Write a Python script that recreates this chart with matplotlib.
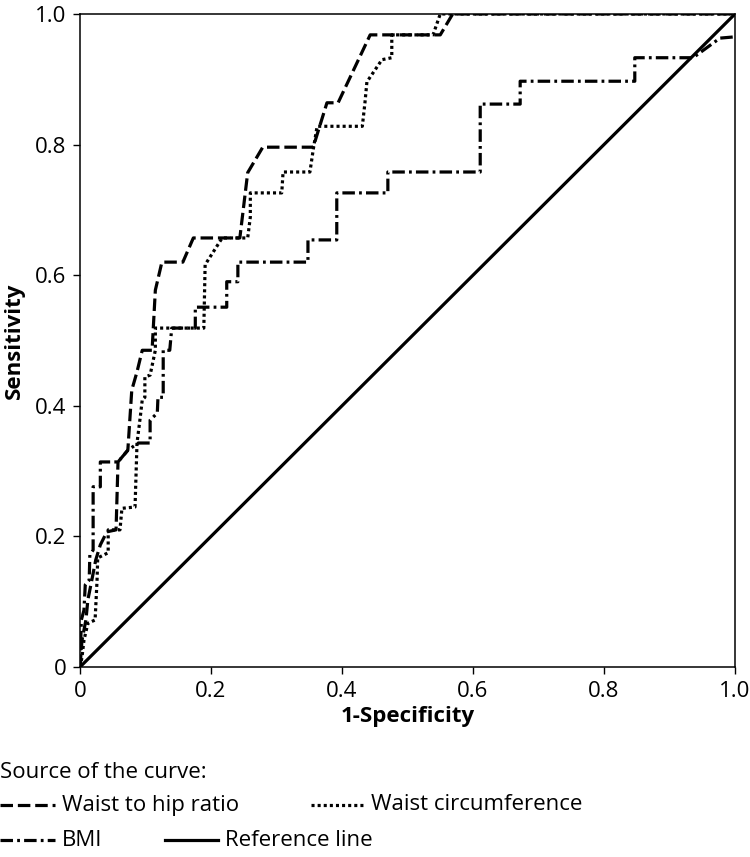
import matplotlib.pyplot as plt
from matplotlib.lines import Line2D

plt.rcParams['font.family'] = ['Open Sans', 'DejaVu Sans']
plt.rcParams['lines.scale_dashes'] = False

# ROC curve points (1-specificity, sensitivity)
whr_x = [0, 0.003, 0.009, 0.012, 0.018, 0.024, 0.031, 0.041, 0.055, 0.058, 0.073, 0.079,
         0.087, 0.095, 0.110, 0.115, 0.125, 0.157, 0.173, 0.244, 0.256, 0.279, 0.356,
         0.377, 0.394, 0.443, 0.550, 0.569, 1.0]
whr_y = [0, 0.041, 0.072, 0.103, 0.133, 0.164, 0.187, 0.207, 0.210, 0.314, 0.332, 0.424,
         0.452, 0.485, 0.485, 0.577, 0.620, 0.620, 0.657, 0.657, 0.757, 0.796, 0.796,
         0.864, 0.864, 0.968, 0.968, 1.0, 1.0]

wc_x = [0, 0.003, 0.006, 0.012, 0.023, 0.026, 0.027, 0.043, 0.043, 0.061, 0.064, 0.084,
        0.087, 0.092, 0.095, 0.099, 0.099, 0.107, 0.111, 0.115, 0.115, 0.189, 0.191,
        0.217, 0.256, 0.260, 0.260, 0.308, 0.310, 0.351, 0.356, 0.362, 0.431, 0.435,
        0.438, 0.461, 0.476, 0.476, 0.539, 0.550, 1.0]
wc_y = [0, 0.015, 0.041, 0.067, 0.072, 0.133, 0.167, 0.175, 0.210, 0.210, 0.243, 0.245,
        0.343, 0.383, 0.409, 0.413, 0.444, 0.447, 0.466, 0.485, 0.519, 0.519, 0.616,
        0.657, 0.657, 0.689, 0.726, 0.726, 0.758, 0.758, 0.792, 0.828, 0.828, 0.864,
        0.896, 0.930, 0.933, 0.968, 0.968, 1.0, 1.0]

bmi_x = [0, 0.002, 0.006, 0.008, 0.014, 0.015, 0.020, 0.020, 0.031, 0.031, 0.058, 0.073,
         0.089, 0.107, 0.107, 0.118, 0.119, 0.127, 0.127, 0.137, 0.140, 0.176, 0.176,
         0.224, 0.224, 0.241, 0.241, 0.348, 0.348, 0.392, 0.392, 0.470, 0.470, 0.611,
         0.611, 0.672, 0.672, 0.847, 0.847, 0.936, 0.977, 1.0]
bmi_y = [0, 0.072, 0.087, 0.126, 0.133, 0.172, 0.179, 0.276, 0.276, 0.314, 0.314, 0.332,
         0.343, 0.343, 0.378, 0.389, 0.413, 0.413, 0.485, 0.485, 0.519, 0.519, 0.551,
         0.551, 0.590, 0.590, 0.620, 0.620, 0.654, 0.654, 0.726, 0.726, 0.758, 0.758,
         0.862, 0.862, 0.897, 0.897, 0.933, 0.933, 0.963, 0.965]

ref_x = [0, 1]
ref_y = [0, 1]

ticks = [0, 0.2, 0.4, 0.6, 0.8, 1.0]
tick_labels = ['0', '0.2', '0.4', '0.6', '0.8', '1.0']

dash_whr = (0, (9, 3.5))
dot_wc = (0, (2.2, 2.2))
dashdot_bmi = (0, (9, 3, 2, 3))
lw = 2.3
fs = 16

fig = plt.figure(figsize=(7.5, 8.57), dpi=100)
ax = fig.add_axes([0.1067, 0.2217, 0.8733, 0.762])

ax.plot(whr_x, whr_y, color='black', lw=lw, linestyle=dash_whr)
ax.plot(wc_x, wc_y, color='black', lw=lw, linestyle=dot_wc)
ax.plot(bmi_x, bmi_y, color='black', lw=lw, linestyle=dashdot_bmi)
ax.plot(ref_x, ref_y, color='black', lw=lw)

ax.set_xlim(0, 1)
ax.set_ylim(0, 1)
ax.set_xticks(ticks)
ax.set_xticklabels(tick_labels)
ax.set_yticks(ticks)
ax.set_yticklabels(tick_labels)
ax.tick_params(direction='out', length=5, width=1, labelsize=fs, pad=5)
for s in ax.spines.values():
    s.set_linewidth(1.1)

ax.set_xlabel('1-Specificity', fontsize=fs, fontweight='bold', labelpad=3)
ax.set_ylabel('Sensitivity', fontsize=fs, fontweight='bold', labelpad=7)

# legend drawn by hand below the plot
W = 750
fig.text(0.0, 1 - 773 / 857, 'Source of the curve:', fontsize=fs, va='center', ha='left')
rows = [
    (0, 55, 805, dash_whr, 'Waist to hip ratio'),
    (311, 364, 805, dot_wc, 'Waist circumference'),
    (0, 55, 840, dashdot_bmi, 'BMI'),
    (165, 218, 840, '-', 'Reference line'),
]
for x0, x1, yy, ls, txt in rows:
    y = 1 - yy / 857
    fig.add_artist(Line2D([x0 / W, x1 / W], [y, y], color='black', lw=lw, linestyle=ls,
                          transform=fig.transFigure))
    fig.text((x1 + 7) / W, y, txt, fontsize=fs, va='center', ha='left')

fig.savefig('out.png', dpi=100)
